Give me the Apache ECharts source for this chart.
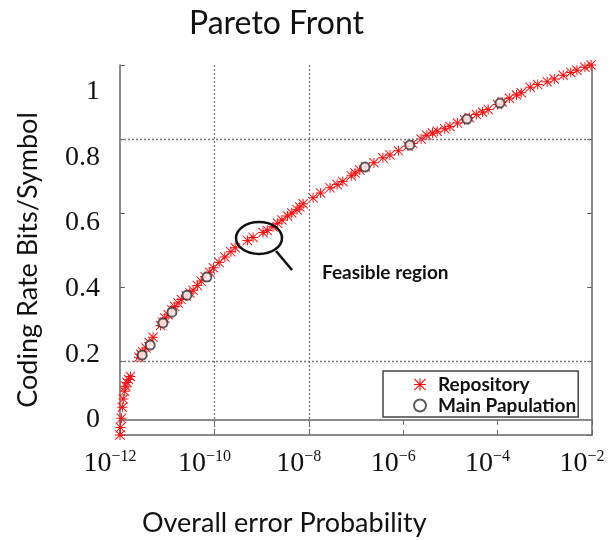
<!DOCTYPE html>
<html>
<head>
<meta charset="utf-8">
<script src="https://cdn.jsdelivr.net/npm/echarts@6/dist/echarts.min.js"></script>
<style>
  html, body { margin: 0; padding: 0; background: #fff; }
  #chart { width: 610px; height: 540px; }
</style>
</head>
<body>
<div id="chart"></div>
<script>
// Repository: exponent of overall error probability (10^e) and coding rate
var repoExp = [
  -12.00, -11.99, -11.97, -11.95, -11.93, -11.90, -11.88, -11.85, -11.82, -11.78,
  -11.60, -11.56, -11.52, -11.45, -11.38, -11.30, -11.14, -11.10, -11.05, -10.98,
  -10.90, -10.84, -10.77, -10.70, -10.60, -10.52, -10.45, -10.36, -10.28, -10.20,
  -10.10, -10.02, -9.90, -9.78, -9.65, -9.56, -9.30, -9.18, -8.97, -8.88,
  -8.76, -8.66, -8.57, -8.45, -8.36, -8.25, -8.19, -8.12, -7.91, -7.75,
  -7.55, -7.40, -7.28, -7.10, -7.02, -6.92, -6.80, -6.62, -6.43, -6.28,
  -6.10, -5.90, -5.80, -5.62, -5.50, -5.38, -5.28, -5.12, -5.01, -4.85,
  -4.70, -4.60, -4.45, -4.32, -4.20, -4.00, -3.90, -3.75, -3.60, -3.50,
  -3.31, -3.15, -2.95, -2.80, -2.61, -2.45, -2.32, -2.15, -2.02
];
var repoRate = [
  0.000, 0.020, 0.045, 0.075, 0.097, 0.118, 0.132, 0.142, 0.150, 0.158,
  0.210, 0.218, 0.225, 0.235, 0.250, 0.264, 0.296, 0.305, 0.316, 0.325,
  0.338, 0.347, 0.357, 0.366, 0.376, 0.384, 0.391, 0.404, 0.416, 0.428,
  0.440, 0.452, 0.466, 0.481, 0.495, 0.506, 0.526, 0.534, 0.547, 0.553,
  0.563, 0.572, 0.581, 0.592, 0.600, 0.609, 0.616, 0.625, 0.641, 0.654,
  0.668, 0.677, 0.685, 0.701, 0.708, 0.716, 0.724, 0.736, 0.749, 0.757,
  0.768, 0.781, 0.788, 0.800, 0.810, 0.816, 0.821, 0.828, 0.834, 0.843,
  0.852, 0.858, 0.866, 0.873, 0.880, 0.893, 0.900, 0.910, 0.919, 0.925,
  0.940, 0.947, 0.955, 0.962, 0.972, 0.980, 0.986, 0.994, 1.000
];
// Main population
var mainExp = [-11.53, -11.36, -11.09, -10.90, -10.58, -10.16, -6.81, -5.86, -4.65, -3.95];
var mainRate = [0.216, 0.243, 0.303, 0.332, 0.378, 0.427, 0.724, 0.784, 0.854, 0.897];

var xTicks = [1e-12, 1e-10, 1e-8, 1e-6, 1e-4, 1e-2];
var yTicks = [0, 0.2, 0.4, 0.6, 0.8, 1];
var gridRates = [0.2, 0.8];
var gridErrors = [1e-10, 1e-8];

var toPoints = function (exps, rates) {
  return exps.map(function (e, i) { return [Math.pow(10, e), rates[i]]; });
};

// asterisk marker like matlab '*'
var star = "path://M9,0 L11,0 L11,20 L9,20 Z M0,9 L20,9 L20,11 L0,11 Z " +
  "M0,1.4 L1.4,0 L20,18.6 L18.6,20 Z M18.6,0 L20,1.4 L1.4,20 L0,18.6 Z";

var chart = echarts.init(document.getElementById("chart"));

var supFormatter = function (v) {
  var p = Math.round(Math.log10(v));
  return "10{sup|" + String(p).replace("-", "\u2212") + "}";
};

var gridLineData = gridRates.map(function (r) { return { yAxis: r }; })
  .concat(gridErrors.map(function (p) {
    return [{ coord: [p, 0] }, { coord: [p, 1] }];
  }));

chart.setOption({
  backgroundColor: "#fff",
  animation: false,
  title: [
    {
      text: "Pareto Front",
      left: 184,
      top: 3,
      textStyle: { fontFamily: "Lato", fontWeight: "normal", fontSize: 32, color: "#111" },
    },
    {
      text: "Overall error Probability",
      left: 137,
      top: 505,
      textStyle: { fontFamily: "Lato", fontWeight: "normal", fontSize: 27, color: "#111" },
    },
  ],
  grid: {
    left: 120,
    right: 18,
    top: 65,
    bottom: 105,
    containLabel: false,
    outerBoundsMode: "none",
  },
  legend: {
    orient: "vertical",
    left: 383,
    top: 371,
    padding: [4, 2, 2, 30],
    itemGap: 2,
    itemWidth: 12,
    itemHeight: 12,
    borderColor: "#444",
    borderWidth: 1.5,
    backgroundColor: "#fff",
    textStyle: { fontFamily: "Lato", fontWeight: "bold", fontSize: 19, color: "#111", padding: [0, 0, 0, 7] },
    data: [
      { name: "Repository", icon: star },
      { name: "Main Papulation", icon: "emptyCircle" },
    ],
  },
  xAxis: [
    {
      type: "log",
      logBase: 10,
      min: 1e-12,
      max: 1e-2,
      axisLine: { lineStyle: { color: "#666", width: 1.5 } },
      axisTick: { inside: true, length: 5, customValues: xTicks, lineStyle: { color: "#666" } },
      splitLine: { show: false },
      minorTick: { show: false },
      axisLabel: {
        customValues: xTicks,
        margin: 14,
        padding: [0, 20, 0, 0],
        color: "#111",
        fontFamily: "Liberation Serif",
        fontSize: 28,
        formatter: supFormatter,
        rich: {
          sup: { fontFamily: "Liberation Serif", fontSize: 16, color: "#111", verticalAlign: "top", padding: [0, 0, 14, 0] },
        },
      },
    },
    {
      type: "log",
      logBase: 10,
      min: 1e-12,
      max: 1e-2,
      position: "top",
      axisLine: { lineStyle: { color: "#666", width: 1.5 } },
      axisTick: { inside: true, length: 5, customValues: xTicks, lineStyle: { color: "#666" } },
      axisLabel: { show: false },
      splitLine: { show: false },
    },
  ],
  yAxis: [
    {
      type: "value",
      min: 0,
      max: 1,
      interval: 0.2,
      name: "Coding Rate Bits/Symbol",
      nameLocation: "middle",
      nameGap: 78,
      nameTextStyle: { fontFamily: "Lato", fontSize: 27, color: "#111", padding: [0, 20, 0, 0] },
      axisLine: { show: true, lineStyle: { color: "#666", width: 1.5 } },
      axisTick: { show: true, inside: true, length: 5, lineStyle: { color: "#666" } },
      axisLabel: { show: false },
      splitLine: { show: false },
    },
    {
      // label track, sits a little off the tick marks like the source figure
      type: "value",
      position: "left",
      min: -0.046,
      max: 1.082,
      axisLine: { show: false },
      axisTick: { show: false },
      splitLine: { show: false },
      axisLabel: {
        customValues: yTicks,
        margin: 20,
        color: "#111",
        fontFamily: "Liberation Serif",
        fontSize: 28,
        formatter: function (v) { return String(+v.toFixed(1)); },
      },
    },
    {
      type: "value",
      min: 0,
      max: 1,
      interval: 0.2,
      position: "right",
      axisLine: { show: true, lineStyle: { color: "#666", width: 1.5 } },
      axisTick: { show: true, inside: true, length: 5, lineStyle: { color: "#666" } },
      axisLabel: { show: false },
      splitLine: { show: false },
    },
  ],
  series: [
    {
      // partial dotted grid of the original
      type: "scatter",
      data: [],
      z: 1,
      silent: true,
      markLine: {
        silent: true,
        symbol: "none",
        label: { show: false },
        lineStyle: { color: "#777", type: [2, 2], width: 1.3 },
        data: gridLineData,
      },
    },
    {
      name: "Repository",
      type: "scatter",
      z: 3,
      symbol: star,
      symbolSize: 10,
      itemStyle: { color: "#ff1010", opacity: 1 },
      data: toPoints(repoExp, repoRate),
    },
    {
      name: "Main Papulation",
      type: "scatter",
      z: 4,
      symbol: "emptyCircle",
      symbolSize: 9,
      itemStyle: { color: "#333", borderWidth: 1.5 },
      data: toPoints(mainExp, mainRate),
    },
  ],
  graphic: [
    {
      type: "ellipse",
      shape: { cx: 259, cy: 238, rx: 23, ry: 16 },
      style: { fill: null, stroke: "#111", lineWidth: 2.5 },
      z: 10,
    },
    {
      type: "line",
      shape: { x1: 276, y1: 251, x2: 292, y2: 270 },
      style: { stroke: "#111", lineWidth: 2.5 },
      z: 10,
    },
    {
      type: "text",
      left: 322,
      top: 263,
      style: { text: "Feasible region", fill: "#111", font: "bold 19px Lato" },
      z: 10,
    },
  ],
});
</script>
</body>
</html>
